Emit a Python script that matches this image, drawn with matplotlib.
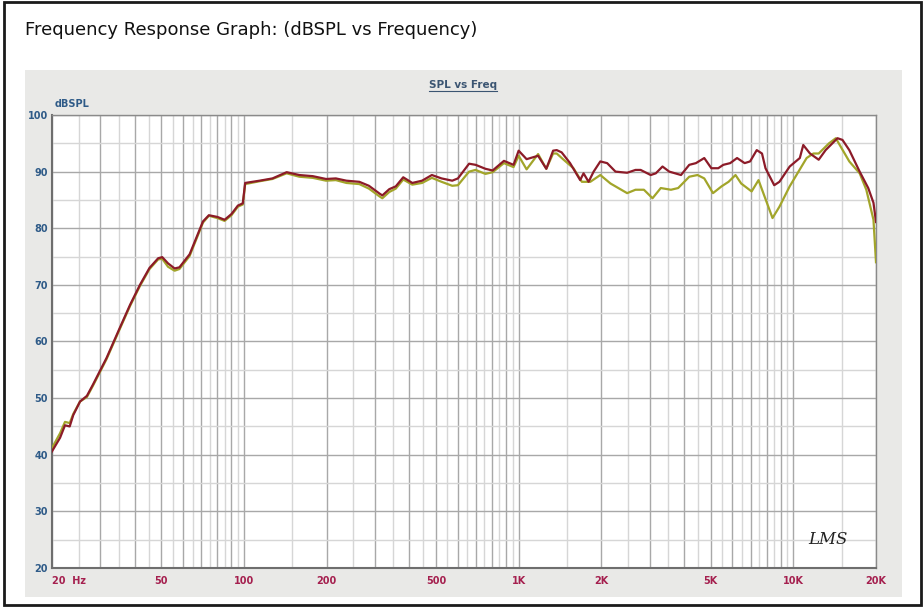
#!/usr/bin/env python3
"""Frequency response (dBSPL vs frequency) recreated with matplotlib."""

import matplotlib
matplotlib.use('Agg')
import matplotlib.pyplot as plt
from matplotlib.lines import Line2D
from matplotlib.patches import Rectangle

# --- data ----------------------------------------------------------------
red_freq = [20, 21.4, 22.3, 23.2, 23.9, 25.3, 26.8, 28.2, 31.6, 35.3, 38.5,
            41.8, 45.3, 48.7, 50.4, 52.9, 55.9, 58.2, 63.4, 70.9, 74.5, 80,
            85, 90, 95, 99, 101, 114, 127, 143, 159, 178, 199, 216, 236, 263,
            285, 312, 319, 338, 357, 380, 410, 445, 483, 524, 573, 601, 660,
            697, 757, 804, 884, 958, 1000, 1069, 1177, 1261, 1335, 1376, 1434,
            1539, 1675, 1723, 1797, 1875, 1983, 2100, 2252, 2483, 2663, 2780,
            3025, 3157, 3340, 3535, 3900, 4180, 4420, 4740, 5030, 5330, 5560,
            5890, 6240, 6650, 6960, 7360, 7690, 7920, 8520, 8900, 9700, 10560,
            10870, 11500, 12370, 13110, 14480, 15100, 15990, 17440, 18740,
            19580, 20000]
red_db = [40.6, 43.0, 45.2, 45.0, 47.0, 49.4, 50.4, 52.4, 57.1, 62.4, 66.5,
          70.0, 73.0, 74.7, 74.9, 73.8, 72.9, 73.1, 75.4, 81.2, 82.3, 82.0,
          81.5, 82.5, 84.0, 84.4, 88.0, 88.4, 88.8, 89.9, 89.4, 89.2, 88.7,
          88.8, 88.4, 88.2, 87.5, 86.1, 85.8, 86.9, 87.4, 89.0, 88.0, 88.4,
          89.4, 88.8, 88.4, 88.8, 91.4, 91.2, 90.5, 90.2, 91.9, 91.2, 93.7,
          92.2, 92.8, 90.5, 93.7, 93.8, 93.4, 91.5, 88.5, 89.7, 88.2, 90.0,
          91.8, 91.5, 90.0, 89.8, 90.3, 90.3, 89.4, 89.7, 90.9, 90.0, 89.4,
          91.2, 91.5, 92.4, 90.6, 90.6, 91.2, 91.5, 92.4, 91.5, 91.8, 93.8,
          93.2, 90.6, 87.6, 88.2, 90.9, 92.4, 94.7, 93.2, 92.1, 93.8, 95.9,
          95.6, 93.8, 90.0, 87.1, 84.5, 81.1]

olive_freq = [20, 21.4, 22.3, 23.2, 23.9, 25.3, 26.8, 28.2, 31.6, 35.3, 38.5,
              41.8, 45.3, 48.7, 50.4, 52.9, 55.9, 58.2, 63.4, 70.9, 74.5, 80,
              85, 90, 95, 99, 101, 114, 127, 143, 159, 178, 199, 216, 236, 263,
              285, 312, 319, 338, 357, 380, 410, 445, 483, 524, 573, 601, 660,
              697, 757, 804, 884, 958, 1000, 1069, 1177, 1261, 1335, 1376,
              1458, 1583, 1699, 1823, 1983, 2160, 2483, 2663, 2858, 3072,
              3292, 3585, 3808, 4180, 4480, 4740, 5100, 5480, 5810, 6160,
              6460, 7050, 7470, 8400, 8900, 9700, 11180, 11830, 12370, 13490,
              14280, 14880, 15990, 17440, 18440, 19580, 20000]
olive_db = [41.2, 43.8, 45.8, 45.6, 47.2, 49.4, 50.2, 52.2, 56.9, 62.2, 66.3,
            69.8, 72.8, 74.5, 74.6, 73.2, 72.5, 72.8, 75.1, 81.0, 82.2, 81.8,
            81.3, 82.3, 83.8, 84.2, 87.8, 88.3, 88.7, 89.7, 89.1, 88.9, 88.4,
            88.5, 88.0, 87.8, 87.0, 85.6, 85.3, 86.4, 87.0, 88.6, 87.7, 88.0,
            88.9, 88.2, 87.5, 87.6, 90.0, 90.3, 89.6, 89.9, 91.5, 90.8, 92.8,
            90.4, 93.1, 90.5, 93.2, 93.2, 92.1, 90.6, 88.2, 88.2, 89.4, 87.9,
            86.2, 86.8, 86.8, 85.3, 87.1, 86.8, 87.1, 89.1, 89.4, 88.8, 86.2,
            87.4, 88.2, 89.4, 87.9, 86.5, 88.5, 81.8, 83.8, 87.4, 92.4, 93.2,
            93.2, 95.0, 95.9, 94.4, 91.8, 89.7, 86.8, 81.5, 74.0]

x_tick_values = [20, 50, 100, 200, 500, 1000, 2000, 5000, 10000, 20000]
x_tick_labels = ['20  Hz', '50', '100', '200', '500', '1K', '2K', '5K', '10K', '20K']
y_tick_values = [20, 30, 40, 50, 60, 70, 80, 90, 100]

# --- colours -------------------------------------------------------------
PANEL = '#e9e9e7'
RED = '#8c1b28'
OLIVE = '#a2a52a'
BLUE_TXT = '#2f5b88'
RED_TXT = '#a5204f'

W, H = 924, 607
fig = plt.figure(figsize=(W / 100, H / 100), dpi=100)
fig.patch.set_facecolor('white')

# outer frame and grey panel (pixel coords converted to figure fractions)
fig.add_artist(Rectangle((4 / W, 2 / H), 917 / W, 603 / H, transform=fig.transFigure,
                         facecolor='none', edgecolor='#1a1a1a', lw=2))
fig.add_artist(Rectangle((25 / W, 1 - 597 / H), 877 / W, 527 / H, transform=fig.transFigure,
                         facecolor=PANEL, edgecolor='none', zorder=0))

fig.text(25 / W, 1 - 30 / H, 'Frequency Response Graph: (dBSPL vs Frequency)',
         fontsize=13, family='DejaVu Sans', va='center', ha='left', color='#111111')

left, right, top, bottom = 52, 876, 115, 568
ax = fig.add_axes([left / W, 1 - bottom / H, (right - left) / W, (bottom - top) / H])
ax.set_facecolor('white')
ax.set_xscale('log')
ax.set_xlim(20, 20000)
ax.set_ylim(20, 100)

# grid: integer multiples dark, half-steps light
major_x = [m * d for d in (10, 100, 1000, 10000) for m in range(1, 10) if 20 <= m * d <= 20000]
minor_x = [(m + 0.5) * d for d in (10, 100, 1000, 10000) for m in range(1, 10)
           if 20 < (m + 0.5) * d < 20000]
for f in major_x:
    ax.axvline(f, color='#a8a8a8', lw=1.0, zorder=1)
for f in minor_x:
    ax.axvline(f, color='#d6d6d6', lw=1.0, zorder=1)
for v in range(20, 101, 10):
    ax.axhline(v, color='#a8a8a8', lw=1.0, zorder=1)
for v in range(25, 100, 10):
    ax.axhline(v, color='#d6d6d6', lw=1.0, zorder=1)

ax.plot(olive_freq, olive_db, color=OLIVE, lw=1.6, zorder=3)
ax.plot(red_freq, red_db, color=RED, lw=1.6, zorder=4)

ax.set_xticks(x_tick_values)
ax.set_xticklabels(x_tick_labels)
ax.set_xticks([], minor=True)
ax.set_yticks(y_tick_values)
ax.set_yticklabels([str(v) for v in y_tick_values])
ax.tick_params(axis='both', length=0)
ax.tick_params(axis='x', pad=6, labelsize=7, labelcolor=RED_TXT)
ax.tick_params(axis='y', pad=3, labelsize=7, labelcolor=BLUE_TXT)
for lab in ax.get_xticklabels() + ax.get_yticklabels():
    lab.set_fontweight('bold')
ax.get_xticklabels()[0].set_ha('left')
ax.get_xticklabels()[0].set_x(19.6)

for side in ('left', 'bottom'):
    ax.spines[side].set_color('#6e6e6e')
    ax.spines[side].set_linewidth(1.5)
for side in ('top', 'right'):
    ax.spines[side].set_color('#8a8a8a')
    ax.spines[side].set_linewidth(1.0)

fig.text(55 / W, 1 - 104 / H, 'dBSPL', fontsize=7, fontweight='bold',
         color=BLUE_TXT, ha='left', va='center')

sub = fig.text(463 / W, 1 - 85 / H, 'SPL vs Freq', fontsize=7.5, fontweight='bold',
               color='#3b5572', ha='center', va='center')
fig.canvas.draw()
bb = sub.get_window_extent().transformed(fig.transFigure.inverted())
fig.add_artist(Line2D([bb.x0, bb.x1], [bb.y0 - 1 / H, bb.y0 - 1 / H],
                      transform=fig.transFigure, color='#3b5572', lw=0.8))

ax.text(0.965, 0.045, 'LMS', transform=ax.transAxes, fontsize=12, fontstyle='italic',
        family='DejaVu Serif', color='#222222', ha='right', va='bottom')

fig.savefig('out.png', dpi=100)
